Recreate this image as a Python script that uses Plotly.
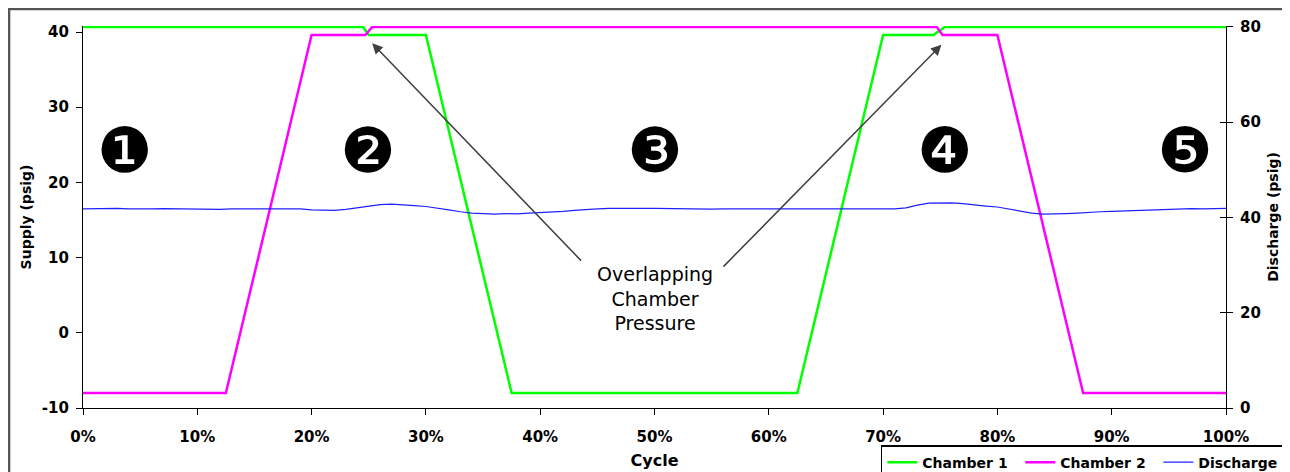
import plotly.graph_objects as go

# ---- data ----
cycle_c1 = [0.0, 0.245, 0.250, 0.300, 0.375, 0.625, 0.700, 0.744, 0.754, 1.0]
chamber1 = [40.67, 40.67, 39.6, 39.6, -8.0, -8.0, 39.6, 39.6, 40.67, 40.67]
cycle_c2 = [0.0, 0.125, 0.200, 0.247, 0.253, 0.747, 0.752, 0.800, 0.875, 1.0]
chamber2 = [-8.0, -8.0, 39.6, 39.6, 40.67, 40.67, 39.6, 39.6, -8.0, -8.0]

cycle_d = [i / 100 for i in range(101)]
discharge = [
    41.8, 41.85, 41.8, 41.9, 41.8, 41.75, 41.8, 41.85, 41.8, 41.75,  # 0-9
    41.8, 41.8, 41.7, 41.8, 41.8, 41.8, 41.9, 41.85, 41.8, 41.8,     # 10-19
    41.6, 41.5, 41.5, 41.7, 42.0, 42.4, 42.7, 42.8, 42.7, 42.5,      # 20-29
    42.3, 42.0, 41.6, 41.2, 40.9, 40.8, 40.7, 40.8, 40.75, 40.9,     # 30-39
    41.0, 41.1, 41.3, 41.5, 41.7, 41.8, 41.9, 41.85, 41.9, 41.9,     # 40-49
    41.9, 41.85, 41.8, 41.8, 41.8, 41.75, 41.8, 41.85, 41.8, 41.8,   # 50-59
    41.8, 41.8, 41.75, 41.8, 41.8, 41.8, 41.8, 41.8, 41.7, 41.8,     # 60-69
    41.8, 41.8, 42.0, 42.6, 43.0, 43.1, 43.05, 42.9, 42.6, 42.4,     # 70-79
    42.2, 41.8, 41.3, 40.9, 40.7, 40.7, 40.8, 40.9, 41.1, 41.2,      # 80-89
    41.3, 41.4, 41.5, 41.6, 41.7, 41.75, 41.8, 41.85, 41.8, 41.9,    # 90-99
    41.9,                                                            # 100
]

stage_labels = ["\u2776", "\u2777", "\u2778", "\u2779", "\u277A"]
stage_x = [0.037, 0.249, 0.50, 0.754, 0.964]
stage_y = [24.3, 24.3, 24.3, 24.3, 24.3]

x_ticks = [0, 0.1, 0.2, 0.3, 0.4, 0.5, 0.6, 0.7, 0.8, 0.9, 1.0]
left_ticks = [-10, 0, 10, 20, 30, 40]
left_tick_labels = ["-10", "0", "10", "20", "30", "40"]
right_ticks = [0, 20, 40, 60, 80]

FONT = "DejaVu Sans"

fig = go.Figure()
fig.add_trace(go.Scatter(x=cycle_c1, y=chamber1, mode="lines", name="Chamber 1",
                         line=dict(color="#00ff00", width=2.5)))
fig.add_trace(go.Scatter(x=cycle_c2, y=chamber2, mode="lines", name="Chamber 2",
                         line=dict(color="#ff00ff", width=2.5)))
fig.add_trace(go.Scatter(x=cycle_d, y=discharge, mode="lines", name="Discharge",
                         line=dict(color="#2020ff", width=1.2), yaxis="y2"))

# stage markers
for lab, sx, sy in zip(stage_labels, stage_x, stage_y):
    fig.add_annotation(x=sx, y=sy, text=lab, showarrow=False,
                       font=dict(family="DejaVu Sans", size=62, color="black"))

# overlap text and arrows
fig.add_annotation(x=0.50, y=4.6, text="Overlapping<br>Chamber<br>Pressure",
                   showarrow=False, font=dict(family=FONT, size=19, color="black"),
                   align="center")
fig.add_annotation(x=0.253, y=38.5, ax=0.437, ay=9.4, axref="x", ayref="y",
                   text="", showarrow=True, arrowhead=2, arrowsize=1.4,
                   arrowwidth=1.5, arrowcolor="#404040")
fig.add_annotation(x=0.751, y=38.3, ax=0.559, ay=8.6, axref="x", ayref="y",
                   text="", showarrow=True, arrowhead=2, arrowsize=1.4,
                   arrowwidth=1.5, arrowcolor="#404040")

# outer chart border
fig.add_shape(type="rect", xref="paper", yref="paper",
              x0=-0.0647, y0=-0.4, x1=1.2, y1=1.0445,
              line=dict(color="#555555", width=2.5), layer="below")

tickfont = dict(family=FONT, size=15, color="black", weight="bold")
titlefont = dict(family=FONT, size=14, color="black", weight="bold")

fig.update_layout(
    width=1282, height=464,
    margin=dict(l=75, r=64, t=18, b=64, autoexpand=False),
    paper_bgcolor="white", plot_bgcolor="white",
    showlegend=True,
    legend=dict(orientation="h", x=0.698, y=-0.097, xanchor="left", yanchor="top",
                bordercolor="black", borderwidth=1.5, bgcolor="white",
                font=dict(family=FONT, size=14, color="black", weight="bold"),
                itemwidth=30, tracegroupgap=0, entrywidth=93,
                entrywidthmode="pixels"),
    xaxis=dict(range=[0, 1], tickvals=x_ticks, tickformat=".0%",
               showgrid=False, zeroline=False, showline=True, linecolor="black",
               linewidth=1.2, ticks="outside", ticklen=6, tickcolor="black",
               tickfont=tickfont, ticklabelstandoff=9,
               title=dict(text="Cycle", font=dict(family=FONT, size=16, color="black", weight="bold"), standoff=9)),
    yaxis=dict(range=[-10, 40.8], tickvals=left_ticks, ticktext=left_tick_labels,
               showgrid=False,
               zeroline=False, showline=True, linecolor="black", linewidth=1.2,
               ticks="outside", ticklen=6, tickcolor="black", tickfont=tickfont,
               ticklabelstandoff=4,
               title=dict(text="Supply (psig)", font=titlefont, standoff=6)),
    yaxis2=dict(range=[0, 80.2], tickvals=right_ticks, overlaying="y", side="right",
                showgrid=False, zeroline=False, showline=True, linecolor="black",
                linewidth=1.2, ticks="outside", ticklen=6, tickcolor="black",
                tickfont=tickfont, ticklabelstandoff=4,
                title=dict(text="Discharge (psig)", font=titlefont, standoff=8)),
    yaxis3=dict(range=[0, 80.2], tickvals=right_ticks, overlaying="y", side="right",
                showgrid=False, zeroline=False, showline=False,
                ticks="inside", ticklen=6, tickcolor="black", showticklabels=False),
)
fig.add_trace(go.Scatter(x=[None], y=[None], yaxis="y3", showlegend=False,
                         hoverinfo="skip"))

fig.write_html("out.html")
